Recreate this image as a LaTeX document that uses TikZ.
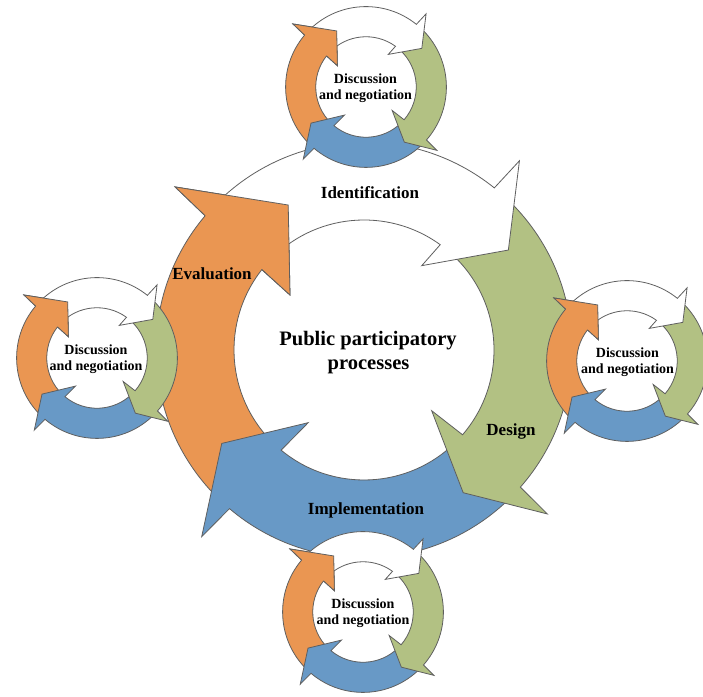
\documentclass[tikz,border=0pt]{standalone}
\usepackage{fontspec}
\setmainfont{Liberation Serif}
\definecolor{arrOrange}{RGB}{234,150,82}
\definecolor{arrGreen}{RGB}{178,193,131}
\definecolor{arrBlue}{RGB}{104,153,198}
\definecolor{ringGray}{RGB}{95,95,95}
% #1 tail angle, #2 outer arc end angle, #3/#4 outer barb, #5/#6 tip, #7/#8 inner barb, #9 inner arc end angle
\newcommand\ringpath[9]{(#1:208) arc[start angle=#1, end angle=#2, radius=156pt] -- (#3:#4) -- (#5:#6) -- (#7:#8) -- (#9:130) arc[start angle=#9, end angle=#1, radius=97.5pt] -- cycle}
\newcommand\drawcycle[3]{%
\begin{scope}[shift={(#1,#2)}, scale=#3]
 \draw[ringline, fill=arrOrange] \ringpath{226}{139.8}{139.2}{249.6}{117.6}{163.6}{143.4}{92.2}{141.8};
 \draw[ringline, fill=arrBlue] \ringpath{-45}{-130.3}{-131.0}{247.4}{-146.7}{170.2}{-127.5}{91.6}{-129.6};
 \draw[ringline, fill=arrGreen] \ringpath{48}{-41.25}{-41.8}{246}{-55.2}{173.8}{-41.9}{90.9}{-40.7};
 \draw[ringline, fill=white] \ringpath{137}{51.2}{50.6}{244.9}{34.7}{175.6}{55.6}{102.2}{54.1};
 \fill[arrOrange] (139.2:249.6) -- (117.6:163.6) -- (143.4:92.2) -- cycle;
 \draw[ringline] (139.8:208) -- (139.2:249.6) -- (117.6:163.6) -- (143.4:92.2) -- (141.8:130);
\end{scope}}
\begin{document}
\begin{tikzpicture}[x=0.75pt, y=0.75pt,
  ringline/.style={draw=ringGray, line width=0.6pt, line join=miter},
  smalltxt/.style={font=\fontsize{10.5}{12}\selectfont\bfseries, inner sep=0pt, anchor=base},
  steptxt/.style={font=\fontsize{12.75}{14}\selectfont\bfseries, inner sep=0pt, anchor=base},
  maintxt/.style={font=\fontsize{15.4}{18}\selectfont\bfseries, inner sep=0pt, anchor=base}]
\useasboundingbox (0,0) rectangle (703,696);
% big cycle
\drawcycle{364}{346}{1}
\node[steptxt] (ident) at (370,497) {Identification};
\node[steptxt] (evalu) at (212,416.5) {Evaluation};
\node[steptxt] (design) at (511,260) {Design};
\node[steptxt] (implem) at (366,181) {Implementation};
\node[maintxt] (ppp1) at (368,350) {Public participatory};
\node[maintxt] (ppp2) at (368.5,326) {processes};
% small cycles
\drawcycle{366}{609}{0.3865}
\drawcycle{97}{338}{0.3865}
\drawcycle{627}{335}{0.3865}
\drawcycle{363}{84}{0.3865}
\node[smalltxt] (topA) at (365.5,612) {Discussion};
\node[smalltxt] (topB) at (365.5,596.5) {and negotiation};
\node[smalltxt] (leftA) at (96,341) {Discussion};
\node[smalltxt] (leftB) at (96,325.5) {and negotiation};
\node[smalltxt] (rightA) at (627.5,338) {Discussion};
\node[smalltxt] (rightB) at (627.5,322.5) {and negotiation};
\node[smalltxt] (botA) at (363,87) {Discussion};
\node[smalltxt] (botB) at (363,71.5) {and negotiation};
\end{tikzpicture}
\end{document}
